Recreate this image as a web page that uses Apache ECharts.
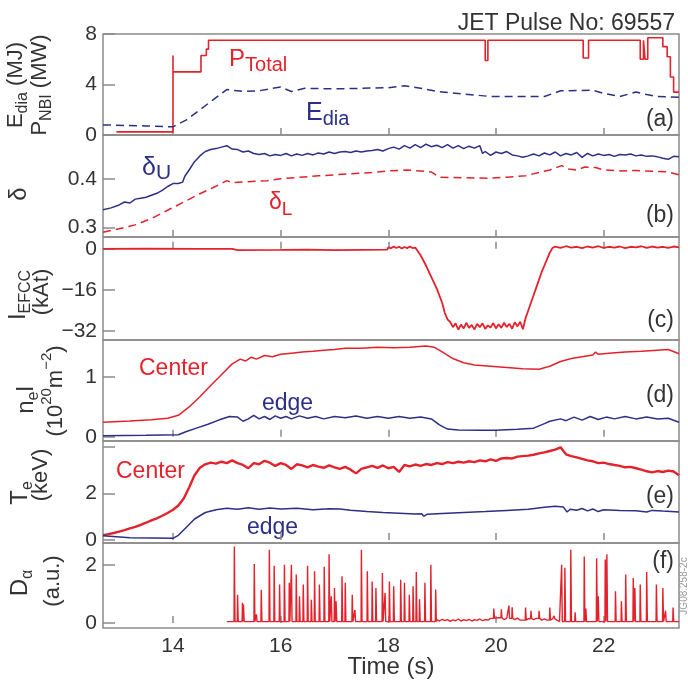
<!DOCTYPE html>
<html>
<head>
<meta charset="utf-8">
<script src="https://cdn.jsdelivr.net/npm/echarts@6/dist/echarts.min.js"></script>
<style>html,body{margin:0;padding:0;background:#fff}#chart{width:688px;height:686px}</style>
</head>
<body>
<div id="chart"></div>
<script>
// 时间轴 (s)
var timeTicks = [14, 16, 18, 20, 22];

// (a) P_Total (MW) 阶梯, E_dia (MJ)
var pTotal = [[12.95,0.25],[14.0,0.25],[14.0,6.3],[14.0,5.0],[14.52,5.0],[14.52,6.3],[14.62,6.3],[14.62,6.8],[14.66,6.8],[14.66,7.5],
  [19.8,7.5],[19.8,5.9],[19.85,5.9],[19.85,7.5],[21.62,7.5],[21.62,6.1],[21.72,6.1],[21.72,7.5],[22.68,7.5],[22.68,6.0],[22.74,6.0],[22.74,7.5],
  [22.77,7.5],[22.77,6.0],[22.82,6.0],[22.82,7.7],[23.1,7.7],[23.1,7.0],[23.18,7.0],[23.18,6.2],[23.24,6.2],[23.24,4.6],[23.3,4.6],[23.3,3.4],[23.4,3.4]];
var eDia = [[12.7,0.8],[13.5,0.72],[14.0,0.65],[14.25,1.2],[14.5,2.0],[14.75,2.8],[15.0,3.6],[15.3,3.45],[15.6,3.5],[15.85,3.7],[16.0,3.8],
  [16.2,3.45],[16.45,3.7],[17.0,3.65],[17.5,3.7],[18.0,3.75],[18.3,3.9],[18.6,3.7],[18.9,3.45],[19.4,3.25],[19.9,3.05],[20.9,3.05],
  [21.2,3.5],[21.8,3.55],[22.0,3.3],[22.3,3.05],[22.6,3.4],[22.8,3.2],[23.0,3.05],[23.4,2.98]];

// (b) 三角形度
var deltaU = [[12.7,0.336],[12.85,0.34],[13.0,0.346],[13.1,0.352],[13.2,0.35],[13.3,0.358],[13.4,0.36],[13.5,0.362],[13.6,0.366],[13.7,0.37],
  [13.8,0.376],[13.9,0.384],[14.0,0.39],[14.1,0.39],[14.18,0.393],[14.22,0.405],[14.3,0.418],[14.4,0.435],[14.5,0.447],[14.6,0.456],
  [14.7,0.46],[14.8,0.462],[14.9,0.465],[15.0,0.468],[15.1,0.461],[15.2,0.46],[15.3,0.455],[15.4,0.457],[15.5,0.452],[15.6,0.45],
  [15.7,0.452],[15.8,0.447],[15.9,0.45],[16.0,0.448],[16.1,0.452],[16.2,0.447],[16.3,0.451],[16.4,0.448],[16.5,0.452],[16.6,0.449],
  [16.7,0.453],[16.8,0.451],[16.9,0.455],[17.0,0.452],[17.1,0.455],[17.2,0.456],[17.3,0.454],[17.4,0.457],[17.5,0.455],[17.6,0.457],
  [17.7,0.458],[17.8,0.46],[17.9,0.457],[18.0,0.462],[18.1,0.465],[18.2,0.461],[18.3,0.468],[18.4,0.463],[18.5,0.47],[18.6,0.464],
  [18.7,0.471],[18.8,0.466],[18.9,0.469],[19.0,0.464],[19.1,0.47],[19.2,0.463],[19.3,0.468],[19.4,0.462],[19.5,0.467],[19.6,0.463],
  [19.7,0.468],[19.75,0.452],[19.8,0.456],[19.9,0.448],[20.0,0.455],[20.1,0.452],[20.2,0.456],[20.3,0.449],[20.4,0.447],[20.5,0.444],
  [20.6,0.447],[20.7,0.451],[20.8,0.447],[20.9,0.453],[21.0,0.449],[21.1,0.455],[21.2,0.447],[21.3,0.452],[21.4,0.449],[21.5,0.454],
  [21.6,0.444],[21.7,0.452],[21.8,0.447],[21.9,0.451],[22.0,0.448],[22.1,0.45],[22.2,0.446],[22.3,0.45],[22.4,0.449],[22.5,0.451],
  [22.6,0.447],[22.7,0.449],[22.8,0.446],[22.9,0.447],[23.0,0.445],[23.1,0.442],[23.2,0.44],[23.3,0.446],[23.4,0.445]];
var deltaL = [[12.7,0.29],[13.0,0.297],[13.3,0.305],[13.6,0.318],[13.9,0.335],[14.2,0.352],[14.5,0.369],[14.75,0.382],[15.0,0.396],
  [15.1,0.392],[15.4,0.394],[15.75,0.396],[16.0,0.4],[16.35,0.403],[16.7,0.406],[17.0,0.408],[17.3,0.41],[17.7,0.413],[18.0,0.416],
  [18.33,0.418],[18.6,0.416],[18.8,0.414],[18.95,0.403],[19.4,0.402],[19.87,0.401],[20.2,0.403],[20.55,0.406],[20.8,0.413],[21.0,0.418],
  [21.22,0.427],[21.35,0.42],[21.5,0.418],[21.65,0.424],[21.85,0.423],[22.0,0.418],[22.33,0.416],[22.6,0.417],[22.95,0.415],[23.2,0.414],[23.4,0.408]];

// (c) I_EFCC (kAt)
var iEfcc = [[12.7,0],[13.5,0.05],[14.5,0],[15.1,0],[15.2,-0.5],[16.0,-0.4],[16.5,-0.3],[17.0,-0.5],[17.5,-0.4],[17.98,-0.3],
  [18.0,0.6],[18.05,0.2],[18.1,0.9],[18.15,0.3],[18.2,0.8],[18.25,0.1],[18.3,0.7],[18.35,0.2],[18.4,0.9],[18.45,0.3],[18.5,0.5],
  [18.6,-2.5],[18.7,-6.5],[18.8,-11],[18.9,-15.5],[19.0,-21],[19.05,-25],[19.1,-27.5],[19.15,-28.5],[19.2,-30.5],
  [19.25,-29],[19.3,-31.5],[19.35,-29.5],[19.4,-31],[19.45,-28.8],[19.5,-30.8],[19.55,-29.6],[19.6,-31.4],[19.65,-29.2],[19.7,-30.5],
  [19.75,-29],[19.8,-31.2],[19.85,-29.8],[19.9,-30.6],[19.95,-28.9],[20.0,-31],[20.05,-29.4],[20.1,-30.8],[20.15,-28.8],[20.2,-30.4],
  [20.25,-29.2],[20.3,-31.1],[20.35,-28.6],[20.4,-30.2],[20.45,-28.4],[20.5,-31.3],
  [20.55,-27],[20.6,-24],[20.65,-21],[20.7,-18],[20.75,-15],[20.8,-12],[20.85,-9],[20.9,-6.5],[20.95,-4],[21.0,-1.5],[21.05,0.3],
  [21.1,0.9],[21.2,0.4],[21.3,1.0],[21.4,0.5],[21.5,0.8],[21.6,0.3],[21.7,0.9],[21.8,0.5],[21.9,1.0],[22.0,0.4],[22.1,0.8],[22.2,0.5],
  [22.3,0.9],[22.4,0.3],[22.5,0.8],[22.6,0.6],[22.7,1.0],[22.8,0.4],[22.9,0.9],[23.0,0.5],[23.1,0.8],[23.2,0.4],[23.3,0.9],[23.4,0.6]];

// (d) n_e l (10^20 m^-2)
var neCenter = [[12.7,0.245],[13.2,0.265],[13.6,0.285],[13.9,0.31],[14.1,0.36],[14.3,0.5],[14.5,0.67],[14.7,0.86],[14.9,1.04],[15.1,1.22],
  [15.25,1.3],[15.35,1.27],[15.45,1.33],[15.55,1.3],[15.7,1.36],[15.85,1.34],[16.0,1.38],[16.2,1.4],[16.4,1.42],[16.6,1.43],[16.8,1.45],
  [17.0,1.46],[17.2,1.48],[17.5,1.48],[17.8,1.5],[18.1,1.49],[18.4,1.5],[18.7,1.52],[18.85,1.5],[19.0,1.42],[19.2,1.31],[19.4,1.24],
  [19.6,1.2],[19.9,1.18],[20.2,1.16],[20.5,1.14],[20.8,1.13],[21.0,1.18],[21.2,1.26],[21.4,1.31],[21.6,1.34],[21.8,1.37],[21.85,1.42],
  [21.9,1.38],[22.1,1.4],[22.4,1.42],[22.7,1.43],[23.0,1.45],[23.2,1.46],[23.4,1.39]];
var neEdge = [[12.7,0.017],[13.5,0.025],[14.1,0.035],[14.25,0.09],[14.45,0.15],[14.65,0.21],[14.85,0.28],[15.05,0.34],[15.2,0.33],
  [15.3,0.26],[15.4,0.3],[15.5,0.36],[15.6,0.3],[15.7,0.34],[15.8,0.29],[15.9,0.35],[16.0,0.31],[16.1,0.34],[16.2,0.3],[16.35,0.35],
  [16.5,0.31],[16.65,0.34],[16.8,0.3],[17.0,0.34],[17.2,0.32],[17.4,0.35],[17.6,0.31],[17.8,0.34],[18.0,0.31],[18.2,0.34],[18.4,0.31],
  [18.6,0.33],[18.8,0.3],[18.95,0.2],[19.1,0.13],[19.3,0.115],[19.7,0.11],[20.0,0.11],[20.4,0.125],[20.7,0.145],[20.9,0.22],[21.0,0.26],
  [21.2,0.3],[21.3,0.27],[21.45,0.33],[21.6,0.28],[21.75,0.34],[21.9,0.29],[22.05,0.33],[22.2,0.3],[22.4,0.34],[22.6,0.3],[22.8,0.33],
  [23.0,0.3],[23.2,0.31],[23.4,0.245]];

// (e) T_e (keV), 中心每 0.1 s 一个点，从 12.7 s 开始
var teStart = 12.7, teStep = 0.1;
var teCenter = [0.21,0.25,0.3,0.36,0.42,0.5,0.56,0.65,0.74,0.84,0.93,1.04,1.16,1.3,1.48,1.78,2.25,2.78,3.1,3.25,
  3.32,3.28,3.36,3.3,3.42,3.3,3.22,3.08,3.3,3.25,3.4,3.32,3.18,3.3,3.22,3.05,3.25,3.2,3.12,3.22,
  3.15,3.1,3.2,3.12,3.05,3.14,3.02,2.86,3.05,3.12,3.18,3.1,3.2,3.08,3.14,2.92,3.22,3.16,3.24,3.18,
  3.26,3.22,3.3,3.26,3.34,3.3,3.36,3.32,3.38,3.34,3.42,3.38,3.46,3.4,3.5,3.52,3.5,3.58,3.6,3.62,
  3.66,3.72,3.76,3.82,3.88,3.98,3.68,3.6,3.55,3.48,3.42,3.38,3.3,3.32,3.26,3.22,3.18,3.12,3.14,3.08,
  3.02,2.95,2.9,2.96,2.92,2.98,2.94,2.78];
var teEdge = [[12.7,0.18],[13.2,0.1],[14.0,0.07],[14.1,0.2],[14.25,0.55],[14.4,0.9],[14.6,1.18],[14.8,1.3],[15.0,1.36],[15.2,1.32],
  [15.4,1.38],[15.6,1.32],[15.8,1.37],[16.0,1.33],[16.3,1.36],[16.6,1.3],[16.9,1.34],[17.1,1.33],[17.3,1.28],[17.6,1.22],[17.9,1.18],
  [18.2,1.15],[18.5,1.12],[18.62,1.13],[18.66,1.02],[18.72,1.1],[19.0,1.14],[19.4,1.18],[19.8,1.22],[20.2,1.27],[20.6,1.32],[20.9,1.4],
  [21.1,1.45],[21.25,1.42],[21.32,1.2],[21.38,1.32],[21.5,1.28],[21.6,1.35],[21.7,1.25],[21.8,1.33],[21.9,1.22],[22.0,1.3],[22.3,1.27],
  [22.6,1.25],[22.8,1.2],[22.9,1.27],[23.1,1.24],[23.4,1.2]];

// (f) D_alpha (a.u.): 基线 + ELM 尖峰 [t, 高度]
var daBaseline = [[15.0,0.05],[18.88,0.05],[18.9,0.12],[18.95,0.07],[19.0,0.13],[19.05,0.08],[19.1,0.12],[19.15,0.06],[19.2,0.11],
  [19.25,0.08],[19.3,0.14],[19.35,0.07],[19.4,0.12],[19.45,0.08],[19.5,0.13],[19.55,0.07],[19.6,0.12],[19.65,0.09],[19.7,0.14],
  [19.75,0.08],[19.8,0.12],[19.85,0.1],[19.9,0.16],[20.0,0.12],[20.05,0.18],[20.15,0.12],[20.2,0.16],[20.35,0.12],[20.4,0.17],
  [20.45,0.1],[20.6,0.15],[20.7,0.12],[20.75,0.16],[20.85,0.1],[20.9,0.14],[20.95,0.1],[21.05,0.14],[21.12,0.08],[21.18,0.05],[23.4,0.05]];
var daSpikes = [[15.14,2.63],[15.2,0.97],[15.29,0.7],[15.31,0.64],[15.51,2.03],[15.55,0.3],[15.64,1.14],[15.79,2.52],[15.88,1.97],
  [15.98,1.32],[16.07,2.0],[16.16,1.38],[16.2,2.0],[16.29,1.67],[16.35,0.92],[16.42,1.32],[16.5,1.97],[16.57,0.8],[16.63,1.78],
  [16.72,1.32],[16.81,1.93],[16.9,2.36],[16.94,0.92],[17.0,1.2],[17.03,0.75],[17.14,1.61],[17.2,1.38],[17.33,0.97],[17.38,0.45],
  [17.5,2.52],[17.61,1.78],[17.7,1.43],[17.77,1.2],[17.89,1.72],[17.94,1.03],[18.02,1.43],[18.1,1.26],[18.23,1.49],[18.3,1.38],
  [18.39,0.97],[18.46,1.26],[18.52,1.75],[18.58,0.82],[18.68,1.38],[18.79,2.0],[18.88,1.15],[19.96,0.5],[20.1,0.47],[20.24,0.6],
  [20.3,0.54],[20.55,0.53],[20.65,0.42],[20.8,0.42],[21.0,0.53],[21.08,0.25],[21.22,2.0],[21.28,1.9],[21.39,2.52],[21.47,0.37],
  [21.64,2.29],[21.67,0.5],[21.87,2.23],[21.9,0.92],[22.03,2.18],[22.06,2.36],[22.22,1.09],[22.33,0.75],[22.41,1.67],[22.55,1.55],
  [22.58,1.2],[22.68,1.32],[22.8,1.75],[22.98,1.32],[23.1,1.2],[23.15,0.42],[23.29,0.53]];

var RED = '#e3222c', BLUE = '#2b3086', GRAY = '#8a8a8a', INK = '#333';
var FONT = 'Liberation Sans';

var teData = teCenter.map(function (v, i) { return [Math.round((teStart + i * teStep) * 100) / 100, v]; });

function baseAt(t) {
    var b = daBaseline[0][1];
    for (var i = 0; i < daBaseline.length; i++) { if (daBaseline[i][0] <= t) b = daBaseline[i][1]; }
    return b;
}
var daData = daBaseline.slice();
daSpikes.forEach(function (s) {
    var b = baseAt(s[0]);
    daData.push([s[0] - 0.006, b], [s[0], s[1]], [s[0] + 0.012, b]);
});
daData.sort(function (a, b) { return a[0] - b[0]; });

var chart = echarts.init(document.getElementById('chart'));

var panels = [
    {top: 34, height: 101, min: 0, max: 8, ticks: [0, 4, 8], labels: [0, 4, 8]},
    {top: 135, height: 102, min: 0.28, max: 0.49, ticks: [0.3, 0.4], labels: [0.3, 0.4]},
    {top: 237, height: 103, min: -35.5, max: 4.6, ticks: [-32, -16, 0], labels: [-32, -16, 0]},
    {top: 340, height: 101, min: -0.07, max: 1.62, ticks: [0, 1], labels: [0, 1]},
    {top: 441, height: 102, min: -0.13, max: 4.25, ticks: [0, 2, 4], labels: [0, 2]},
    {top: 543, height: 85, min: -0.17, max: 2.75, ticks: [0, 2], labels: [0, 2]}
];

var grids = [], xAxes = [], yAxes = [];
panels.forEach(function (p, i) {
    grids.push({left: 103, width: 576, top: p.top, height: p.height, show: true,
        borderColor: GRAY, borderWidth: 1.5, backgroundColor: 'transparent'});
    xAxes.push({
        type: 'value', gridIndex: i, min: 12.7, max: 23.4,
        axisLine: {show: false}, splitLine: {show: false},
        axisTick: {show: true, inside: true, length: 7, customValues: timeTicks, lineStyle: {color: GRAY, width: 1.5}},
        axisLabel: {show: i === panels.length - 1, customValues: timeTicks, margin: 8,
            fontSize: 21, fontFamily: FONT, color: INK}
    });
    yAxes.push({
        type: 'value', gridIndex: i, min: p.min, max: p.max,
        axisLine: {show: false}, splitLine: {show: false},
        axisTick: {show: true, inside: true, length: 12, customValues: p.ticks, lineStyle: {color: GRAY, width: 1.5}},
        axisLabel: {customValues: p.labels, margin: 6, fontSize: 21, fontFamily: FONT, color: INK,
            formatter: function (v) { return String(v).replace('-', '\u2212'); }}
    });
});

function line(i, data, color, width, dash) {
    return {
        type: 'line', xAxisIndex: i, yAxisIndex: i, data: data, showSymbol: false, silent: true,
        lineStyle: {color: color, width: width, type: dash || 'solid'}
    };
}

// 文字 (下标用 rich)
function rt(x, y, text, rich, opt) {
    opt = opt || {};
    return {
        type: 'text', x: x, y: y, rotation: opt.rot || 0, silent: true,
        style: {text: text, rich: rich, fill: opt.color || INK, align: opt.align || 'center', verticalAlign: 'middle',
            font: (opt.size || 22) + 'px "' + FONT + '"'}
    };
}
function subRich(main, sub, color, lh) {
    return {
        m: {fontSize: main, fontFamily: FONT, fill: color, lineHeight: lh, verticalAlign: 'top'},
        s: {fontSize: sub, fontFamily: FONT, fill: color, lineHeight: lh, verticalAlign: 'bottom'}
    };
}
function supRich(main, sup, color, lh) {
    return {
        m: {fontSize: main, fontFamily: FONT, fill: color, lineHeight: lh, verticalAlign: 'bottom'},
        p: {fontSize: sup, fontFamily: FONT, fill: color, lineHeight: lh, verticalAlign: 'top'}
    };
}
var R = Math.PI / 2;

var graphics = [
    rt(675, 24, 'JET Pulse No: 69557', null, {align: 'right', size: 23}),
    rt(391, 667, 'Time (s)', null, {size: 24}),
    // 纵轴名称
    rt(18, 85, '{m|E}{s|dia}{m| (MJ)}', subRich(22, 16, INK, 26), {rot: R}),
    rt(42, 85, '{m|P}{s|NBI}{m| (MW)}', subRich(22, 16, INK, 26), {rot: R}),
    rt(19, 194, 'δ', null, {rot: R, size: 24}),
    rt(20, 295, '{m|I}{s|EFCC}', subRich(24, 16, INK, 28), {rot: R}),
    rt(42, 292, '(kAt)', null, {rot: R, size: 22}),
    rt(28, 400, '{m|n}{s|e}{m|l}', subRich(24, 16, INK, 28), {rot: R}),
    rt(53, 391, '{m|(10}{p|20}{m|m}{p|\u22122}{m|)}', supRich(22, 15, INK, 28), {rot: R}),
    rt(22, 493, '{m|T}{s|e}', subRich(24, 16, INK, 28), {rot: R}),
    rt(41, 475, '(keV)', null, {rot: R, size: 22}),
    rt(22, 583, '{m|D}{s|α}', subRich(24, 16, INK, 28), {rot: R}),
    rt(53, 581, '(a.u.)', null, {rot: R, size: 22}),
    // 曲线标注
    rt(229, 61, '{m|P}{s|Total}', subRich(24, 20, RED, 28), {align: 'left', color: RED}),
    rt(306, 115, '{m|E}{s|dia}', subRich(25, 20, BLUE, 28), {align: 'left', color: BLUE}),
    rt(142, 170, '{m|δ}{s|U}', subRich(25, 21, BLUE, 28), {align: 'left', color: BLUE}),
    rt(269, 205, '{m|δ}{s|L}', subRich(23, 19, RED, 28), {align: 'left', color: RED}),
    rt(139, 369, 'Center', null, {align: 'left', size: 23, color: RED}),
    rt(262, 404, 'edge', null, {align: 'left', size: 23, color: BLUE}),
    rt(116, 472, 'Center', null, {align: 'left', size: 23, color: RED}),
    rt(247, 528, 'edge', null, {align: 'left', size: 23, color: BLUE}),
    // 子图编号
    rt(674, 120, '(a)', null, {align: 'right', size: 23}),
    rt(674, 216, '(b)', null, {align: 'right', size: 23}),
    rt(674, 321, '(c)', null, {align: 'right', size: 23}),
    rt(674, 396, '(d)', null, {align: 'right', size: 23}),
    rt(674, 497, '(e)', null, {align: 'right', size: 23}),
    rt(674, 562, '(f)', null, {align: 'right', size: 23}),
    rt(684, 586, 'JG08.258-2c', null, {rot: R, size: 10, color: '#999'})
];

var option = {
    animation: false,
    backgroundColor: '#fff',
    grid: grids,
    xAxis: xAxes,
    yAxis: yAxes,
    graphic: graphics,
    series: [
        line(0, pTotal, RED, 1.6),
        line(0, eDia, BLUE, 1.5, [8, 5]),
        line(1, deltaU, BLUE, 1.5),
        line(1, deltaL, RED, 1.5, [8, 5]),
        line(2, iEfcc, RED, 1.8),
        line(3, neCenter, RED, 1.5),
        line(3, neEdge, BLUE, 1.5),
        line(4, teData, RED, 2.4),
        line(4, teEdge, BLUE, 1.5),
        line(5, daData, RED, 1.4)
    ]
};
chart.setOption(option);
</script>
</body>
</html>
